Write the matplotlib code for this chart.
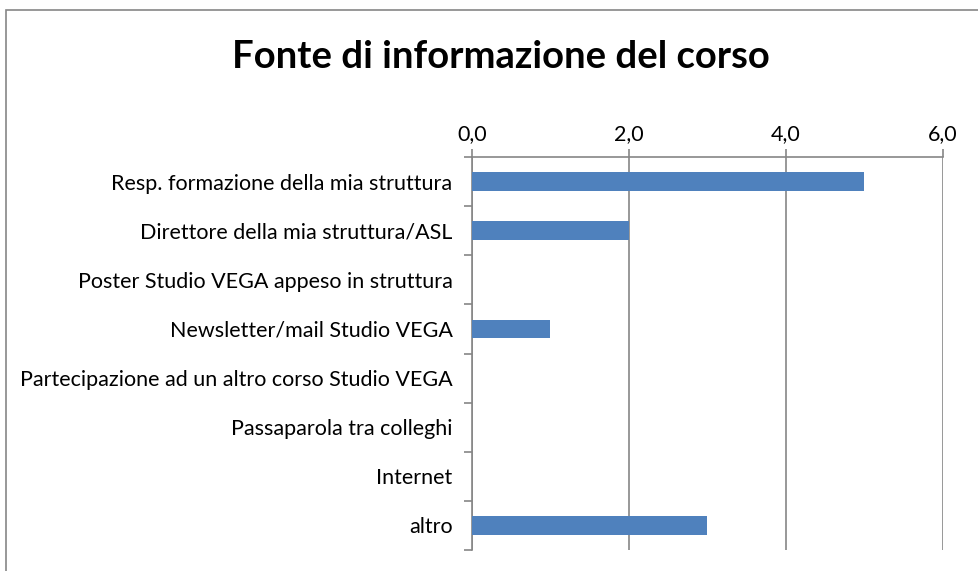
import matplotlib.pyplot as plt
from matplotlib.patches import Rectangle
import numpy as np

categories = ["Resp. formazione della mia struttura",
              "Direttore della mia struttura/ASL",
              "Poster Studio VEGA appeso in struttura",
              "Newsletter/mail Studio VEGA",
              "Partecipazione ad un altro corso Studio VEGA",
              "Passaparola tra colleghi",
              "Internet",
              "altro"]
values = [5, 2, 0, 1, 0, 0, 0, 3]
x_ticks = [0, 2, 4, 6]
x_tick_labels = ["0,0", "2,0", "4,0", "6,0"]

plt.rcParams['font.family'] = ['Lato', 'DejaVu Sans']
W, H = 979, 571
fig = plt.figure(figsize=(W / 100, H / 100), dpi=100)

# chart frame (runs off right and bottom edge like the reference)
fig.patches.append(Rectangle((6 / W, -0.1), 1.2, 1 - 10 / H + 0.1,
                             transform=fig.transFigure, fill=False,
                             edgecolor='#868686', linewidth=1.2))

ax = fig.add_axes([472 / W, 21 / H, 471 / W, 393 / H])
pos = np.arange(len(categories))
ax.barh(pos, values, height=0.38, color='#4F81BD', zorder=3)
ax.set_ylim(len(categories) - 0.5, -0.5)
ax.set_xlim(0, 6)

ax.xaxis.tick_top()
ax.set_xticks(x_ticks)
ax.set_xticklabels(x_tick_labels, fontsize=15.5)
ax.set_yticks(pos)
ax.set_yticklabels(categories, fontsize=15.5)
ax.set_yticks(np.arange(len(categories) + 1) - 0.5, minor=True)
ax.tick_params(axis='y', which='major', length=0, pad=14)
ax.tick_params(axis='y', which='minor', length=6, color='#868686', width=1.2)
ax.tick_params(axis='x', length=6, color='#868686', width=1.2, pad=3)

ax.grid(axis='x', color='#868686', linewidth=1.2, zorder=0)
for s in ['right', 'bottom']:
    ax.spines[s].set_visible(False)
for s in ['left', 'top']:
    ax.spines[s].set_color('#868686')
    ax.spines[s].set_linewidth(1.2)

fig.text(501 / W, 1 - 57 / H, "Fonte di informazione del corso",
         fontsize=27.5, fontweight='bold', ha='center', va='center')

fig.savefig("out.png", dpi=100)
